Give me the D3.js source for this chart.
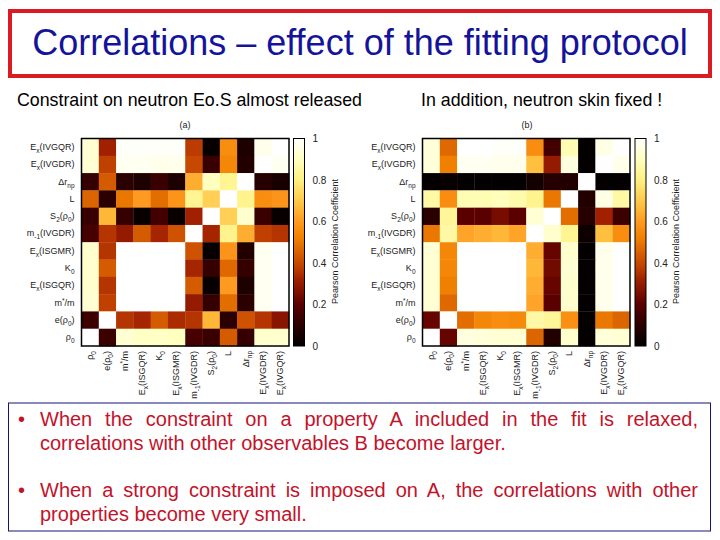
<!DOCTYPE html>
<html>
<head>
<meta charset="utf-8">
<script src="https://d3js.org/d3.v7.min.js"></script>
<style>
  html, body { margin: 0; padding: 0; background: #fff; }
  svg { display: block; font-family: "Liberation Sans", Arial, sans-serif; }
</style>
</head>
<body>
<div id="vis"></div>
<script>
const FRAME_WIDTH = 720;
const FRAME_HEIGHT = 540;

// row labels, top to bottom; columns run the other way round
const ROW_LABELS = ["E_{x}(IVGQR)", "E_{x}(IVGDR)", "Δr_{np}", "L", "S_{2}(ρ_{0})", "m_{-1}(IVGDR)",
  "E_{x}(ISGMR)", "K_{0}", "E_{x}(ISGQR)", "m^{*}/m", "e(ρ_{0})", "ρ_{0}"];
const COL_LABELS = ROW_LABELS.slice().reverse();
const COLORBAR_TICKS = [0, 0.2, 0.4, 0.6, 0.8, 1];

const COLOR_STOPS = [0, 0.1, 0.2, 0.32, 0.38, 0.45, 0.52, 0.6, 0.68, 0.8, 0.9, 1];
const COLOR_RANGE = ["#000000", "#2a0000", "#5a0000", "#a02000", "#c04000", "#d86000", "#f08000",
  "#ff9a20", "#ffc040", "#fff080", "#ffffc0", "#ffffff"];

const VALUES_A = [
  [.93, .32, .99, .99, .99, .99, .37, .02, .56, .07, .97, 1],
  [.93, .38, .98, .98, .97, .97, .40, .13, .54, .08, 1, .98],
  [.12, .44, .10, .07, .13, .07, .64, .90, .83, 1, .09, .06],
  [.46, .10, .50, .60, .48, .58, .83, .72, 1, .82, .56, .58],
  [.13, .66, .12, .02, .15, .02, .32, 1, .72, .92, .13, .02],
  [.16, .36, .30, .44, .33, .42, 1, .33, .82, .64, .38, .36],
  [.92, .36, 1, 1, 1, 1, .42, .02, .58, .08, .98, 1],
  [.92, .44, 1, 1, 1, 1, .33, .12, .47, .12, .98, 1],
  [.92, .36, 1, 1, 1, 1, .44, .02, .60, .07, .98, 1],
  [.93, .38, 1, 1, 1, 1, .30, .12, .48, .10, .98, 1],
  [.14, 1, .36, .33, .44, .34, .36, .66, .10, .42, .36, .28],
  [1, .14, .93, .91, .91, .90, .16, .13, .44, .12, .92, .92]
];

const VALUES_B = [
  [.94, .47, 1, 1, .99, .99, .56, .15, .88, .01, .96, 1],
  [.94, .52, .98, .98, .97, .97, .68, .30, .95, .01, 1, .97],
  [.01, .02, .01, .01, .01, .01, .05, .09, .08, 1, .01, .01],
  [.86, .56, .88, .88, .89, .87, .82, .50, 1, .08, .96, .86],
  [.10, .84, .20, .20, .25, .20, .93, 1, .48, .09, .32, .14],
  [.50, .86, .62, .64, .66, .62, 1, .92, .83, .03, .68, .56],
  [.93, .54, 1, 1, 1, 1, .64, .22, .92, .01, .97, 1],
  [.93, .54, 1, 1, 1, 1, .66, .24, .93, .01, .97, 1],
  [.93, .52, 1, 1, 1, 1, .64, .22, .92, .01, .97, 1],
  [.93, .47, 1, 1, 1, 1, .62, .20, .92, .01, .97, 1],
  [.22, 1, .48, .54, .56, .55, .86, .84, .57, .01, .50, .46],
  [1, .22, .95, .94, .93, .93, .46, .08, .92, .01, .94, .93]
];

const FRAME = d3.select("#vis")
  .append("svg")
  .attr("width", FRAME_WIDTH)
  .attr("height", FRAME_HEIGHT);

const COLOR = d3.scaleLinear().domain(COLOR_STOPS).range(COLOR_RANGE);

// slide furniture
FRAME.append("rect")
  .attr("x", 10).attr("y", 11).attr("width", 700).attr("height", 65)
  .attr("fill", "none").attr("stroke", "#dc1a24").attr("stroke-width", 4);

FRAME.append("text")
  .attr("x", 360).attr("y", 55)
  .attr("text-anchor", "middle")
  .attr("font-size", 36)
  .attr("fill", "#14149a")
  .text("Correlations – effect of the fitting protocol");

FRAME.append("text")
  .attr("x", 17).attr("y", 106)
  .attr("font-size", 17.8)
  .text("Constraint on neutron Eo.S almost released");

FRAME.append("text")
  .attr("x", 421).attr("y", 106)
  .attr("font-size", 17.8)
  .text("In addition, neutron skin fixed !");

// "E_{x}(..)" markup to tspans, sub and superscripts shifted off the baseline
function richLabel(sel, str) {
  sel.text(null);
  let shift = 0;
  str.split(/([_^]\{[^}]*\})/).filter(s => s.length).forEach(part => {
    const m = part.match(/^([_^])\{(.*)\}$/);
    const next = m ? (m[1] === "_" ? 3 : -3) : 0;
    const span = sel.append("tspan").text(m ? m[2] : part);
    if (next !== shift) span.attr("dy", next - shift);
    if (m) span.attr("font-size", 6.5);
    shift = next;
  });
}

function drawPanel(name, values, left, barLeft, titleX) {
  const TOP = 138.5, SIZE = 207.5;
  const BAR_WIDTH = 11;

  const X_SCALE = d3.scaleBand().domain(COL_LABELS).range([left, left + SIZE]);
  const Y_SCALE = d3.scaleBand().domain(ROW_LABELS).range([TOP, TOP + SIZE]);

  const cells = values.flatMap((row, i) =>
    row.map((v, j) => ({ row: ROW_LABELS[i], col: COL_LABELS[j], v: v })));

  const panel = FRAME.append("g");

  panel.selectAll("rect.cell")
    .data(cells)
    .enter()
    .append("rect")
    .attr("class", "cell")
    .attr("x", d => X_SCALE(d.col))
    .attr("y", d => Y_SCALE(d.row))
    .attr("width", X_SCALE.bandwidth() + 0.3)
    .attr("height", Y_SCALE.bandwidth() + 0.3)
    .attr("fill", d => COLOR(d.v));

  panel.append("rect")
    .attr("x", left).attr("y", TOP).attr("width", SIZE).attr("height", SIZE)
    .attr("fill", "none").attr("stroke", "#000").attr("stroke-width", 1.5);

  const yAxis = panel.append("g")
    .attr("transform", `translate(${left},0)`)
    .call(d3.axisLeft(Y_SCALE).tickSize(0).tickPadding(7));
  yAxis.select(".domain").remove();
  yAxis.selectAll("text")
    .attr("font-size", 9).attr("font-family", "Liberation Sans").attr("fill", "#222")
    .each(function (d) { richLabel(d3.select(this), d); });

  const xAxis = panel.append("g")
    .attr("transform", `translate(0,${TOP + SIZE})`)
    .call(d3.axisBottom(X_SCALE).tickSize(0));
  xAxis.select(".domain").remove();
  xAxis.selectAll("text")
    .attr("font-size", 9).attr("font-family", "Liberation Sans").attr("fill", "#222")
    .attr("transform", "rotate(-90)")
    .attr("text-anchor", "end")
    .attr("x", -5).attr("y", 0).attr("dy", "0.32em")
    .each(function (d) { richLabel(d3.select(this), d); });

  // colour bar
  const grad = FRAME.append("defs").append("linearGradient")
    .attr("id", "bar-" + name)
    .attr("x1", 0).attr("x2", 0).attr("y1", 1).attr("y2", 0);
  grad.selectAll("stop")
    .data(COLOR_STOPS)
    .enter()
    .append("stop")
    .attr("offset", d => d)
    .attr("stop-color", d => COLOR(d));

  const BAR_SCALE = d3.scaleLinear().domain([0, 1]).range([TOP + SIZE, TOP]);

  panel.append("rect")
    .attr("x", barLeft).attr("y", TOP).attr("width", BAR_WIDTH).attr("height", SIZE)
    .attr("fill", `url(#bar-${name})`)
    .attr("stroke", "#000").attr("stroke-width", 1);

  const barAxis = panel.append("g")
    .attr("transform", `translate(${barLeft + BAR_WIDTH},0)`)
    .call(d3.axisRight(BAR_SCALE).tickValues(COLORBAR_TICKS).tickSize(0).tickPadding(8)
      .tickFormat(d3.format("~g")));
  barAxis.select(".domain").remove();
  barAxis.selectAll("text")
    .attr("font-size", 10).attr("font-family", "Liberation Sans").attr("fill", "#222");

  panel.append("text")
    .attr("transform", `translate(${barLeft + 44},${TOP + 103}) rotate(-90)`)
    .attr("text-anchor", "middle")
    .attr("font-size", 9).attr("fill", "#222")
    .text("Pearson Correlation Coefficient");

  panel.append("text")
    .attr("x", titleX).attr("y", 128)
    .attr("text-anchor", "middle")
    .attr("font-size", 9).attr("fill", "#222")
    .text("(" + name + ")");
}

drawPanel("a", VALUES_A, 81.5, 293.5, 185);
drawPanel("b", VALUES_B, 422.5, 635, 527);

// bottom text box
FRAME.append("rect")
  .attr("x", 8.5).attr("y", 403).attr("width", 702).attr("height", 128)
  .attr("fill", "none").attr("stroke", "#14147a").attr("stroke-width", 1);

const BULLETS = [
  { lines: ["When the constraint on a property A included in the fit is relaxed,",
            "correlations with other observables B become larger."], y: 426 },
  { lines: ["When a strong constraint is imposed on A, the correlations with other",
            "properties become very small."], y: 497 }
];

BULLETS.forEach(b => {
  FRAME.append("text")
    .attr("x", 18).attr("y", b.y)
    .attr("font-size", 20).attr("fill", "#c4122a")
    .text("•");
  b.lines.forEach((line, i) => {
    const t = FRAME.append("text")
      .attr("x", 40).attr("y", b.y + i * 24)
      .attr("font-size", 20).attr("fill", "#c4122a")
      .text(line);
    // first line of each bullet is justified to the right edge
    if (i === 0) {
      const gaps = line.split(" ").length - 1;
      const extra = (698 - 40 - t.node().getComputedTextLength()) / gaps;
      t.attr("word-spacing", extra);
    }
  });
});
</script>
</body>
</html>
